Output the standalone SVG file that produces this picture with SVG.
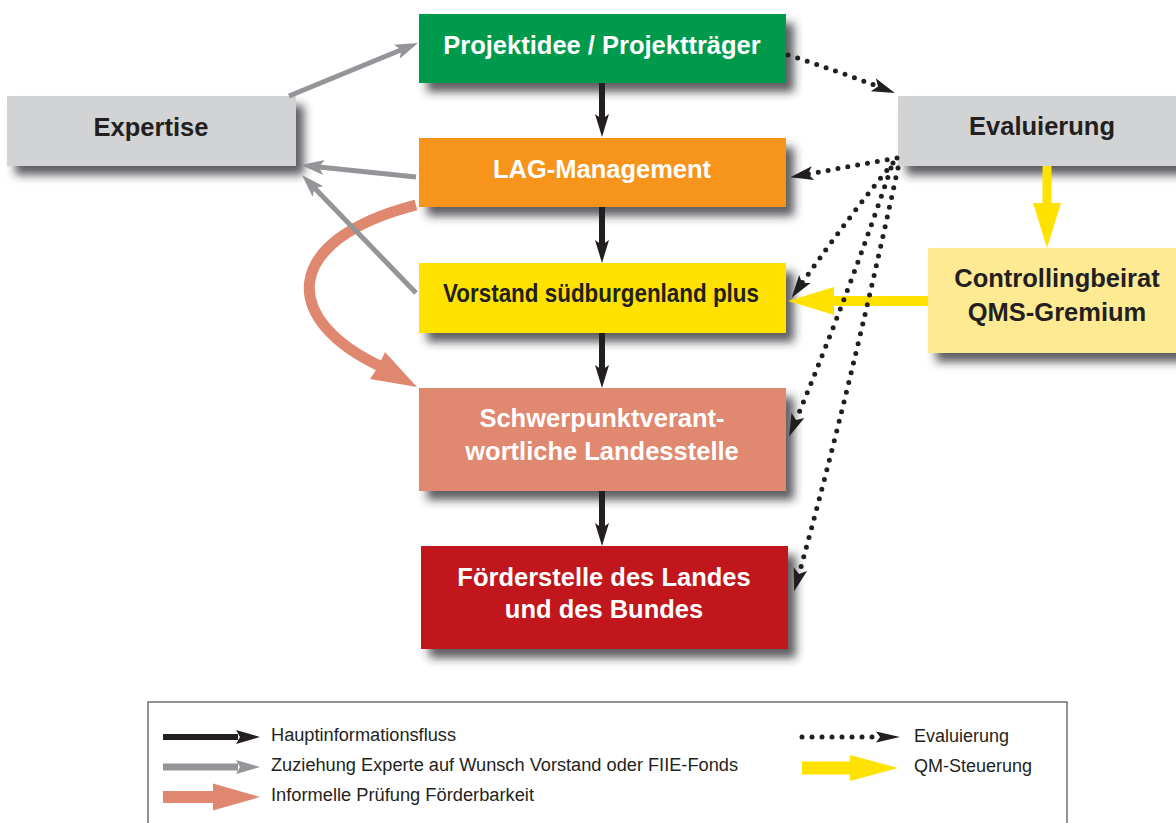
<svg xmlns="http://www.w3.org/2000/svg" width="1176" height="823" viewBox="0 0 1176 823">
<style>
.nt{font-family:"Liberation Sans",Arial,sans-serif;font-weight:bold;font-size:25.5px;text-anchor:middle}
.w{fill:#ffffff}
.d{fill:#231f20}
.lg{font-family:"Liberation Sans",Arial,sans-serif;font-size:18px;fill:#231f20}
.blk{stroke:#231f20;stroke-width:6;fill:none}
.gry{stroke:#939598;stroke-width:5;fill:none}
.dot{stroke:#231f20;stroke-width:5;fill:none;stroke-dasharray:0 10;stroke-linecap:round}
</style>
<defs>
<filter id="sh" x="-15%" y="-30%" width="140%" height="180%">
<feDropShadow dx="8" dy="9" stdDeviation="5" flood-color="#2b2b2d" flood-opacity="0.75"/>
</filter>
<marker id="mB" markerUnits="userSpaceOnUse" viewBox="-4 -8 26 16" markerWidth="26" markerHeight="16" refX="2" refY="0" orient="auto" overflow="visible">
<path d="M20,0 L-3,-7 L2,0 L-3,7 Z" fill="#231f20"/>
</marker>
<marker id="mG" markerUnits="userSpaceOnUse" viewBox="-4 -8 26 16" markerWidth="26" markerHeight="16" refX="2" refY="0" orient="auto" overflow="visible">
<path d="M20,0 L-3,-7.5 L2,0 L-3,7.5 Z" fill="#939598"/>
</marker>
<marker id="mD" markerUnits="userSpaceOnUse" viewBox="-4 -8 28 16" markerWidth="28" markerHeight="16" refX="3" refY="0" orient="auto" overflow="visible">
<path d="M21,0 L-2,-7 L3,0 L-2,7 Z" fill="#231f20"/>
</marker>
</defs>
<rect width="1176" height="823" fill="#ffffff"/>

<g id="nodes">
<g id="projektidee">
<rect x="419" y="14" width="367" height="69" fill="#009a4d" filter="url(#sh)"/>
<text class="nt w" x="602" y="54">Projektidee / Projektträger</text>
</g>
<g id="lag">
<rect x="419" y="138" width="367" height="69" fill="#f7941d" filter="url(#sh)"/>
<text class="nt w" x="602" y="178">LAG-Management</text>
</g>
<g id="vorstand">
<rect x="419" y="263" width="367" height="70" fill="#ffe200" filter="url(#sh)"/>
<text class="nt d" x="601" y="302" textLength="316" lengthAdjust="spacingAndGlyphs">Vorstand südburgenland plus</text>
</g>
<g id="schwerpunkt">
<rect x="419" y="388" width="367" height="103" fill="#e0886f" filter="url(#sh)"/>
<text class="nt w" x="602" y="427">Schwerpunktverant-</text>
<text class="nt w" x="602" y="460">wortliche Landesstelle</text>
</g>
<g id="foerderstelle">
<rect x="421" y="546" width="367" height="103" fill="#c1121b" filter="url(#sh)"/>
<text class="nt w" x="604" y="586">Förderstelle des Landes</text>
<text class="nt w" x="604" y="618">und des Bundes</text>
</g>
<g id="expertise">
<rect x="7" y="96" width="289" height="70" fill="#d1d3d4" filter="url(#sh)"/>
<text class="nt d" x="151" y="136">Expertise</text>
</g>
<g id="evaluierung">
<rect x="898" y="96" width="290" height="70" fill="#d1d3d4" filter="url(#sh)"/>
<text class="nt d" x="1042" y="135">Evaluierung</text>
</g>
<g id="controllingbeirat">
<rect x="928" y="248" width="260" height="105" fill="#ffea94" filter="url(#sh)"/>
<text class="nt d" x="1057" y="287">Controllingbeirat</text>
<text class="nt d" x="1057" y="321">QMS-Gremium</text>
</g>
</g>

<g id="connectors">
<!-- main flow -->
<path class="blk" d="M602,83 L602,119" marker-end="url(#mB)"/>
<path class="blk" d="M602,207 L602,245" marker-end="url(#mB)"/>
<path class="blk" d="M602,333 L602,370" marker-end="url(#mB)"/>
<path class="blk" d="M602,491 L602,528" marker-end="url(#mB)"/>
<!-- informal check -->
<path d="M416,205 C280,240 280,320 382,367" stroke="#e0886f" stroke-width="11" fill="none"/>
<polygon points="417,387 370,379 378,367 385,352" fill="#e0886f"/>
<!-- expertise -->
<path class="gry" d="M289,96 L401.4,49.8" marker-end="url(#mG)"/>
<path class="gry" d="M416,177 L318.9,166.9" marker-end="url(#mG)"/>
<path class="gry" d="M416,293 L314.5,187.9" marker-end="url(#mG)"/>
<!-- QM steering -->
<line x1="1047" y1="166" x2="1047" y2="206" stroke="#ffe200" stroke-width="9"/>
<polygon points="1033,203 1061,203 1047,248" fill="#ffe200"/>
<line x1="928" y1="301" x2="830" y2="301" stroke="#ffe200" stroke-width="10"/>
<polygon points="834,287 788,301 834,315" fill="#ffe200"/>
<!-- evaluation -->
<path class="dot" d="M788,55 Q835,70 878,86.5" marker-end="url(#mD)"/>
<path class="dot" d="M897,158 L808,174" marker-end="url(#mD)"/>
<path class="dot" d="M893,163 Q850,215 802,283" marker-end="url(#mD)"/>
<path class="dot" d="M891,168 Q850,290 796,420" marker-end="url(#mD)"/>
<path class="dot" d="M898,168 Q850,390 799,574" marker-end="url(#mD)"/>
</g>

<g id="legend">
<rect x="148" y="702" width="919" height="140" fill="none" stroke="#58595b" stroke-width="1.3"/>
<line x1="163" y1="737" x2="238" y2="737" stroke="#231f20" stroke-width="6"/>
<polygon points="236,730 260,737 236,744 240,737" fill="#231f20"/>
<text class="lg" x="271" y="741" textLength="185" lengthAdjust="spacingAndGlyphs">Hauptinformationsfluss</text>
<line x1="163" y1="767" x2="238" y2="767" stroke="#939598" stroke-width="7"/>
<polygon points="236,760 260,767 236,774 240,767" fill="#939598"/>
<text class="lg" x="271" y="771" textLength="467" lengthAdjust="spacingAndGlyphs">Zuziehung Experte auf Wunsch Vorstand oder FIIE-Fonds</text>
<line x1="163" y1="797" x2="216" y2="797" stroke="#e0886f" stroke-width="12"/>
<polygon points="213,783.5 260,797 213,810.5" fill="#e0886f"/>
<text class="lg" x="271" y="801" textLength="263" lengthAdjust="spacingAndGlyphs">Informelle Prüfung Förderbarkeit</text>
<line x1="802" y1="737" x2="874" y2="737" class="dot" stroke-dasharray="0 10.3"/>
<polygon points="876,731.5 900,737 876,742.5 880,737" fill="#231f20"/>
<text class="lg" x="914" y="742" textLength="95" lengthAdjust="spacingAndGlyphs">Evaluierung</text>
<line x1="802" y1="768" x2="852" y2="768" stroke="#ffe200" stroke-width="13"/>
<polygon points="850,755 898,768 850,781" fill="#ffe200"/>
<text class="lg" x="914" y="772" textLength="118" lengthAdjust="spacingAndGlyphs">QM-Steuerung</text>
</g>
</svg>
